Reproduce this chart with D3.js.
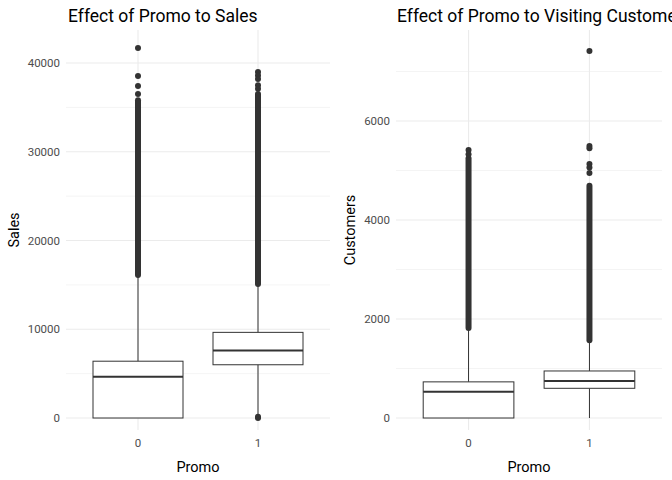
<!DOCTYPE html>
<html><head><meta charset="utf-8">
<script src="https://cdn.jsdelivr.net/npm/d3@7"></script>
<style>body{margin:0;background:#fff}text{font-family:Roboto,sans-serif}</style>
</head><body><div id="chart"></div>
<script>
const categories = ["0", "1"];
// box stats: [lowerWhisker, q1, median, q3, upperWhisker]
const salesBoxes = [[0, 0, 4650, 6400, 16000], [450, 6000, 7600, 9650, 15000]];
const salesRuns = [[16100, 35800], [15100, 36500]];          // dense outlier runs
const salesPoints = [[41690, 38530, 37400, 36500], [38990, 38600, 38200, 37500, 37100, 0, 150]];
const custBoxes = [[0, 0, 530, 730, 1800], [0, 600, 750, 950, 1550]];
const custRuns = [[1820, 5250], [1570, 4690]];
const custPoints = [[5414, 5330], [7414, 5495, 5450, 5130, 5060, 4950]];

const W = 672, H = 480;
const svg = d3.select("#chart").append("svg").attr("width", W).attr("height", H);

function panel(o) {
  const x = d3.scaleBand().domain(categories).range([o.x0, o.x1]).paddingOuter(0.1).paddingInner(0);
  // use ggplot-like: centers spaced, expand 0.6
  const step = (o.x1 - o.x0) / 2.2;
  const cx = c => o.x0 + step * (0.6 + categories.indexOf(c));
  const y = d3.scaleLinear().domain(o.domain).range([418, o.yTop]);
  const g = svg.append("g");
  // grid
  const minor = d3.range(0, o.gridMax + 1, o.minorStep);
  g.selectAll("line.minor").data(minor).enter().append("line")
    .attr("x1", o.x0).attr("x2", o.x1).attr("y1", d => y(d)).attr("y2", d => y(d))
    .attr("stroke", "#ebebeb").attr("stroke-width", d => d % o.majorStep === 0 ? 1.1 : 0.55);
  g.selectAll("line.vg").data(categories).enter().append("line")
    .attr("x1", cx).attr("x2", cx).attr("y1", 30).attr("y2", 430)
    .attr("stroke", "#ebebeb").attr("stroke-width", 1.1);
  // boxes
  const bw = step * 0.75;
  categories.forEach((c, i) => {
    const b = o.boxes[i], X = cx(c);
    g.append("line").attr("x1", X).attr("x2", X).attr("y1", y(b[0])).attr("y2", y(b[1])).attr("stroke", "#333");
    g.append("line").attr("x1", X).attr("x2", X).attr("y1", y(b[3])).attr("y2", y(b[4])).attr("stroke", "#333");
    g.append("rect").attr("x", X - bw / 2).attr("width", bw).attr("y", y(b[3])).attr("height", Math.max(0.5, y(b[1]) - y(b[3])))
      .attr("fill", "#fff").attr("stroke", "#333");
    g.append("line").attr("x1", X - bw / 2).attr("x2", X + bw / 2).attr("y1", y(b[2])).attr("y2", y(b[2])).attr("stroke", "#333").attr("stroke-width", 2);
    const r = o.runs[i];
    g.append("line").attr("x1", X).attr("x2", X).attr("y1", y(r[0])).attr("y2", y(r[1]))
      .attr("stroke", "#333").attr("stroke-width", 6).attr("stroke-linecap", "round");
    g.selectAll(null).data(o.points[i]).enter().append("circle")
      .attr("cx", X).attr("cy", d => y(d)).attr("r", 3).attr("fill", "#333");
  });
  // axes labels
  g.selectAll("text.yt").data(d3.range(0, o.gridMax + 1, o.majorStep)).enter().append("text")
    .attr("x", o.x0 - 6).attr("y", d => y(d) + 4).attr("text-anchor", "end")
    .attr("font-size", 11.5).attr("fill", "#4d4d4d").text(d => d);
  g.selectAll("text.xt").data(categories).enter().append("text")
    .attr("x", cx).attr("y", 447).attr("text-anchor", "middle")
    .attr("font-size", 11.5).attr("fill", "#4d4d4d").text(d => d);
  g.append("text").attr("x", (o.x0 + o.x1) / 2).attr("y", 472).attr("text-anchor", "middle")
    .attr("font-size", 14.5).attr("fill", "#000").text("Promo");
  g.append("text").attr("transform", `translate(${o.yTitleX},${(30 + 430) / 2}) rotate(-90)`)
    .attr("text-anchor", "middle").attr("font-size", 14.5).text(o.yTitle);
  g.append("text").attr("x", o.titleX).attr("y", 22).attr("font-size", 17.5).text(o.title);
}

panel({ x0: 66, x1: 330, domain: [0, 40000], yTop: 63, gridMax: 40000, majorStep: 10000, minorStep: 5000,
  boxes: salesBoxes, runs: salesRuns, points: salesPoints, yTitle: "Sales", yTitleX: 19, title: "Effect of Promo to Sales", titleX: 68 });
panel({ x0: 396, x1: 662, domain: [0, 6000], yTop: 121, gridMax: 7000, majorStep: 2000, minorStep: 1000,
  boxes: custBoxes, runs: custRuns, points: custPoints, yTitle: "Customers", yTitleX: 355, title: "Effect of Promo to Visiting Customers", titleX: 397 });
</script></body></html>
